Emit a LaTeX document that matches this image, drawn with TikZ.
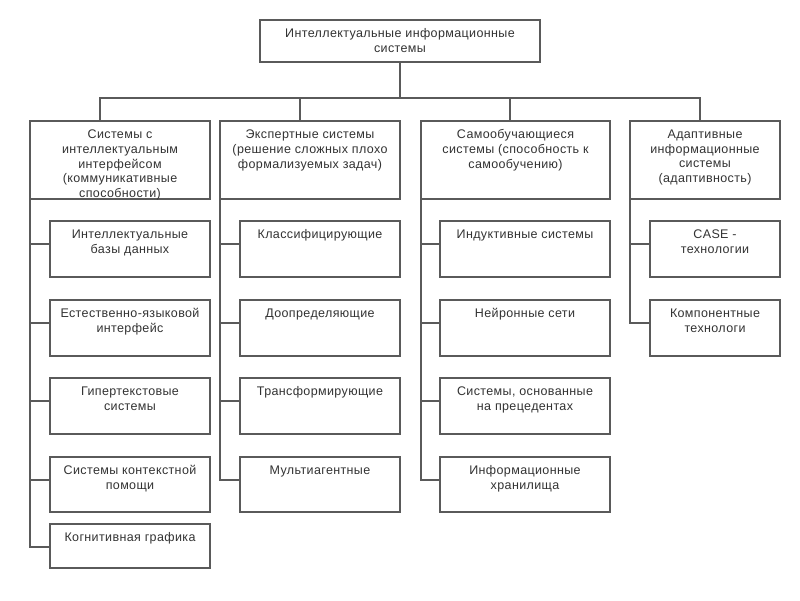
\documentclass[tikz,border=0pt]{standalone}
\usepackage{fontspec}
\setmainfont{Liberation Sans}[LetterSpace=3]
\usepackage{xcolor}
\usetikzlibrary{calc}
\definecolor{linec}{HTML}{5A5A5A}
\definecolor{textc}{HTML}{333333}
\tikzset{
	box/.style={
			draw=linec, line width=1.1pt, fill=white, anchor=north west,
			inner sep=0pt, outer sep=0pt
		},
	lbl/.style={
			anchor=north, align=center, yshift=-6.5pt, inner sep=2pt, text=textc,
			font=\fontsize{12.5}{14.8}\selectfont
		},
	link/.style={draw=linec, line width=1.1pt}
}

\begin{document}
\begin{tikzpicture}[x=1pt, y=-1pt]
        \useasboundingbox (0,0) rectangle (800,600);

        % Root
        \node[box, minimum width=280pt, minimum height=42pt, label={[lbl]north:{Интеллектуальные информационные\\системы}}] (ais) at (260, 20) {};

        % Classes
        \node[box, minimum width=180pt, minimum height=78pt, label={[lbl]north:{Системы с\\интеллектуальным\\интерфейсом\\(коммуникативные\\способности)}}] (c_iface) at (30, 121) {};
        \node[box, minimum width=180pt, minimum height=78pt, label={[lbl]north:{Экспертные системы\\(решение сложных плохо\\формализуемых задач)}}] (c_expert) at (220, 121) {};
        \node[box, minimum width=189pt, minimum height=78pt, label={[lbl]north:{Самообучающиеся\\системы (способность к\\самообучению)}}] (c_learn) at (421, 121) {};
        \node[box, minimum width=150pt, minimum height=78pt, label={[lbl]north:{Адаптивные\\информационные\\системы\\(адаптивность)}}] (c_adapt) at (630, 121) {};

        % Systems with intelligent interface
        \node[box, minimum width=160pt, minimum height=56pt, label={[lbl]north:{Интеллектуальные\\базы данных}}] (s_kb) at (50, 221) {};
        \node[box, minimum width=160pt, minimum height=56pt, label={[lbl]north:{Естественно-языковой\\интерфейс}}] (s_nl) at (50, 300) {};
        \node[box, minimum width=160pt, minimum height=56pt, label={[lbl]north:{Гипертекстовые\\системы}}] (s_hyper) at (50, 378) {};
        \node[box, minimum width=160pt, minimum height=55pt, label={[lbl]north:{Системы контекстной\\помощи}}] (s_help) at (50, 457) {};
        \node[box, minimum width=160pt, minimum height=44pt, label={[lbl]north:{Когнитивная графика}}] (s_cogn) at (50, 524) {};

        % Expert systems
        \node[box, minimum width=160pt, minimum height=56pt, label={[lbl]north:{Классифицирующие}}] (e_class) at (240, 221) {};
        \node[box, minimum width=160pt, minimum height=56pt, label={[lbl]north:{Доопределяющие}}] (e_def) at (240, 300) {};
        \node[box, minimum width=160pt, minimum height=56pt, label={[lbl]north:{Трансформирующие}}] (e_trans) at (240, 378) {};
        \node[box, minimum width=160pt, minimum height=55pt, label={[lbl]north:{Мультиагентные}}] (e_multi) at (240, 457) {};

        % Self-learning systems
        \node[box, minimum width=170pt, minimum height=56pt, label={[lbl]north:{Индуктивные системы}}] (l_induct) at (440, 221) {};
        \node[box, minimum width=170pt, minimum height=56pt, label={[lbl]north:{Нейронные сети}}] (l_neural) at (440, 300) {};
        \node[box, minimum width=170pt, minimum height=56pt, label={[lbl]north:{Системы, основанные\\на прецедентах}}] (l_cases) at (440, 378) {};
        \node[box, minimum width=170pt, minimum height=55pt, label={[lbl]north:{Информационные\\хранилища}}] (l_store) at (440, 457) {};

        % Adaptive systems
        \node[box, minimum width=130pt, minimum height=56pt, label={[lbl]north:{CASE -\\технологии}}] (a_case) at (650, 221) {};
        \node[box, minimum width=130pt, minimum height=56pt, label={[lbl]north:{Компонентные\\технологи}}] (a_comp) at (650, 300) {};

        % Links root - classes
        \foreach \c/\dx in {c_iface/70, c_expert/80, c_learn/89, c_adapt/70}
            \draw[link] ($(\c.north west)+(\dx,0)$) -- ++(0,-23) -| (ais.south);

        % Links classes - subclasses
        \foreach \s in {s_kb, s_nl, s_hyper, s_help, s_cogn}
            \draw[link] (c_iface.south west) |- ($(\s.north west)+(0,23)$);
        \foreach \s in {e_class, e_def, e_trans, e_multi}
            \draw[link] (c_expert.south west) |- ($(\s.north west)+(0,23)$);
        \foreach \s in {l_induct, l_neural, l_cases, l_store}
            \draw[link] (c_learn.south west) |- ($(\s.north west)+(0,23)$);
        \foreach \s in {a_case, a_comp}
            \draw[link] (c_adapt.south west) |- ($(\s.north west)+(0,23)$);
    \end{tikzpicture}
\end{document}
